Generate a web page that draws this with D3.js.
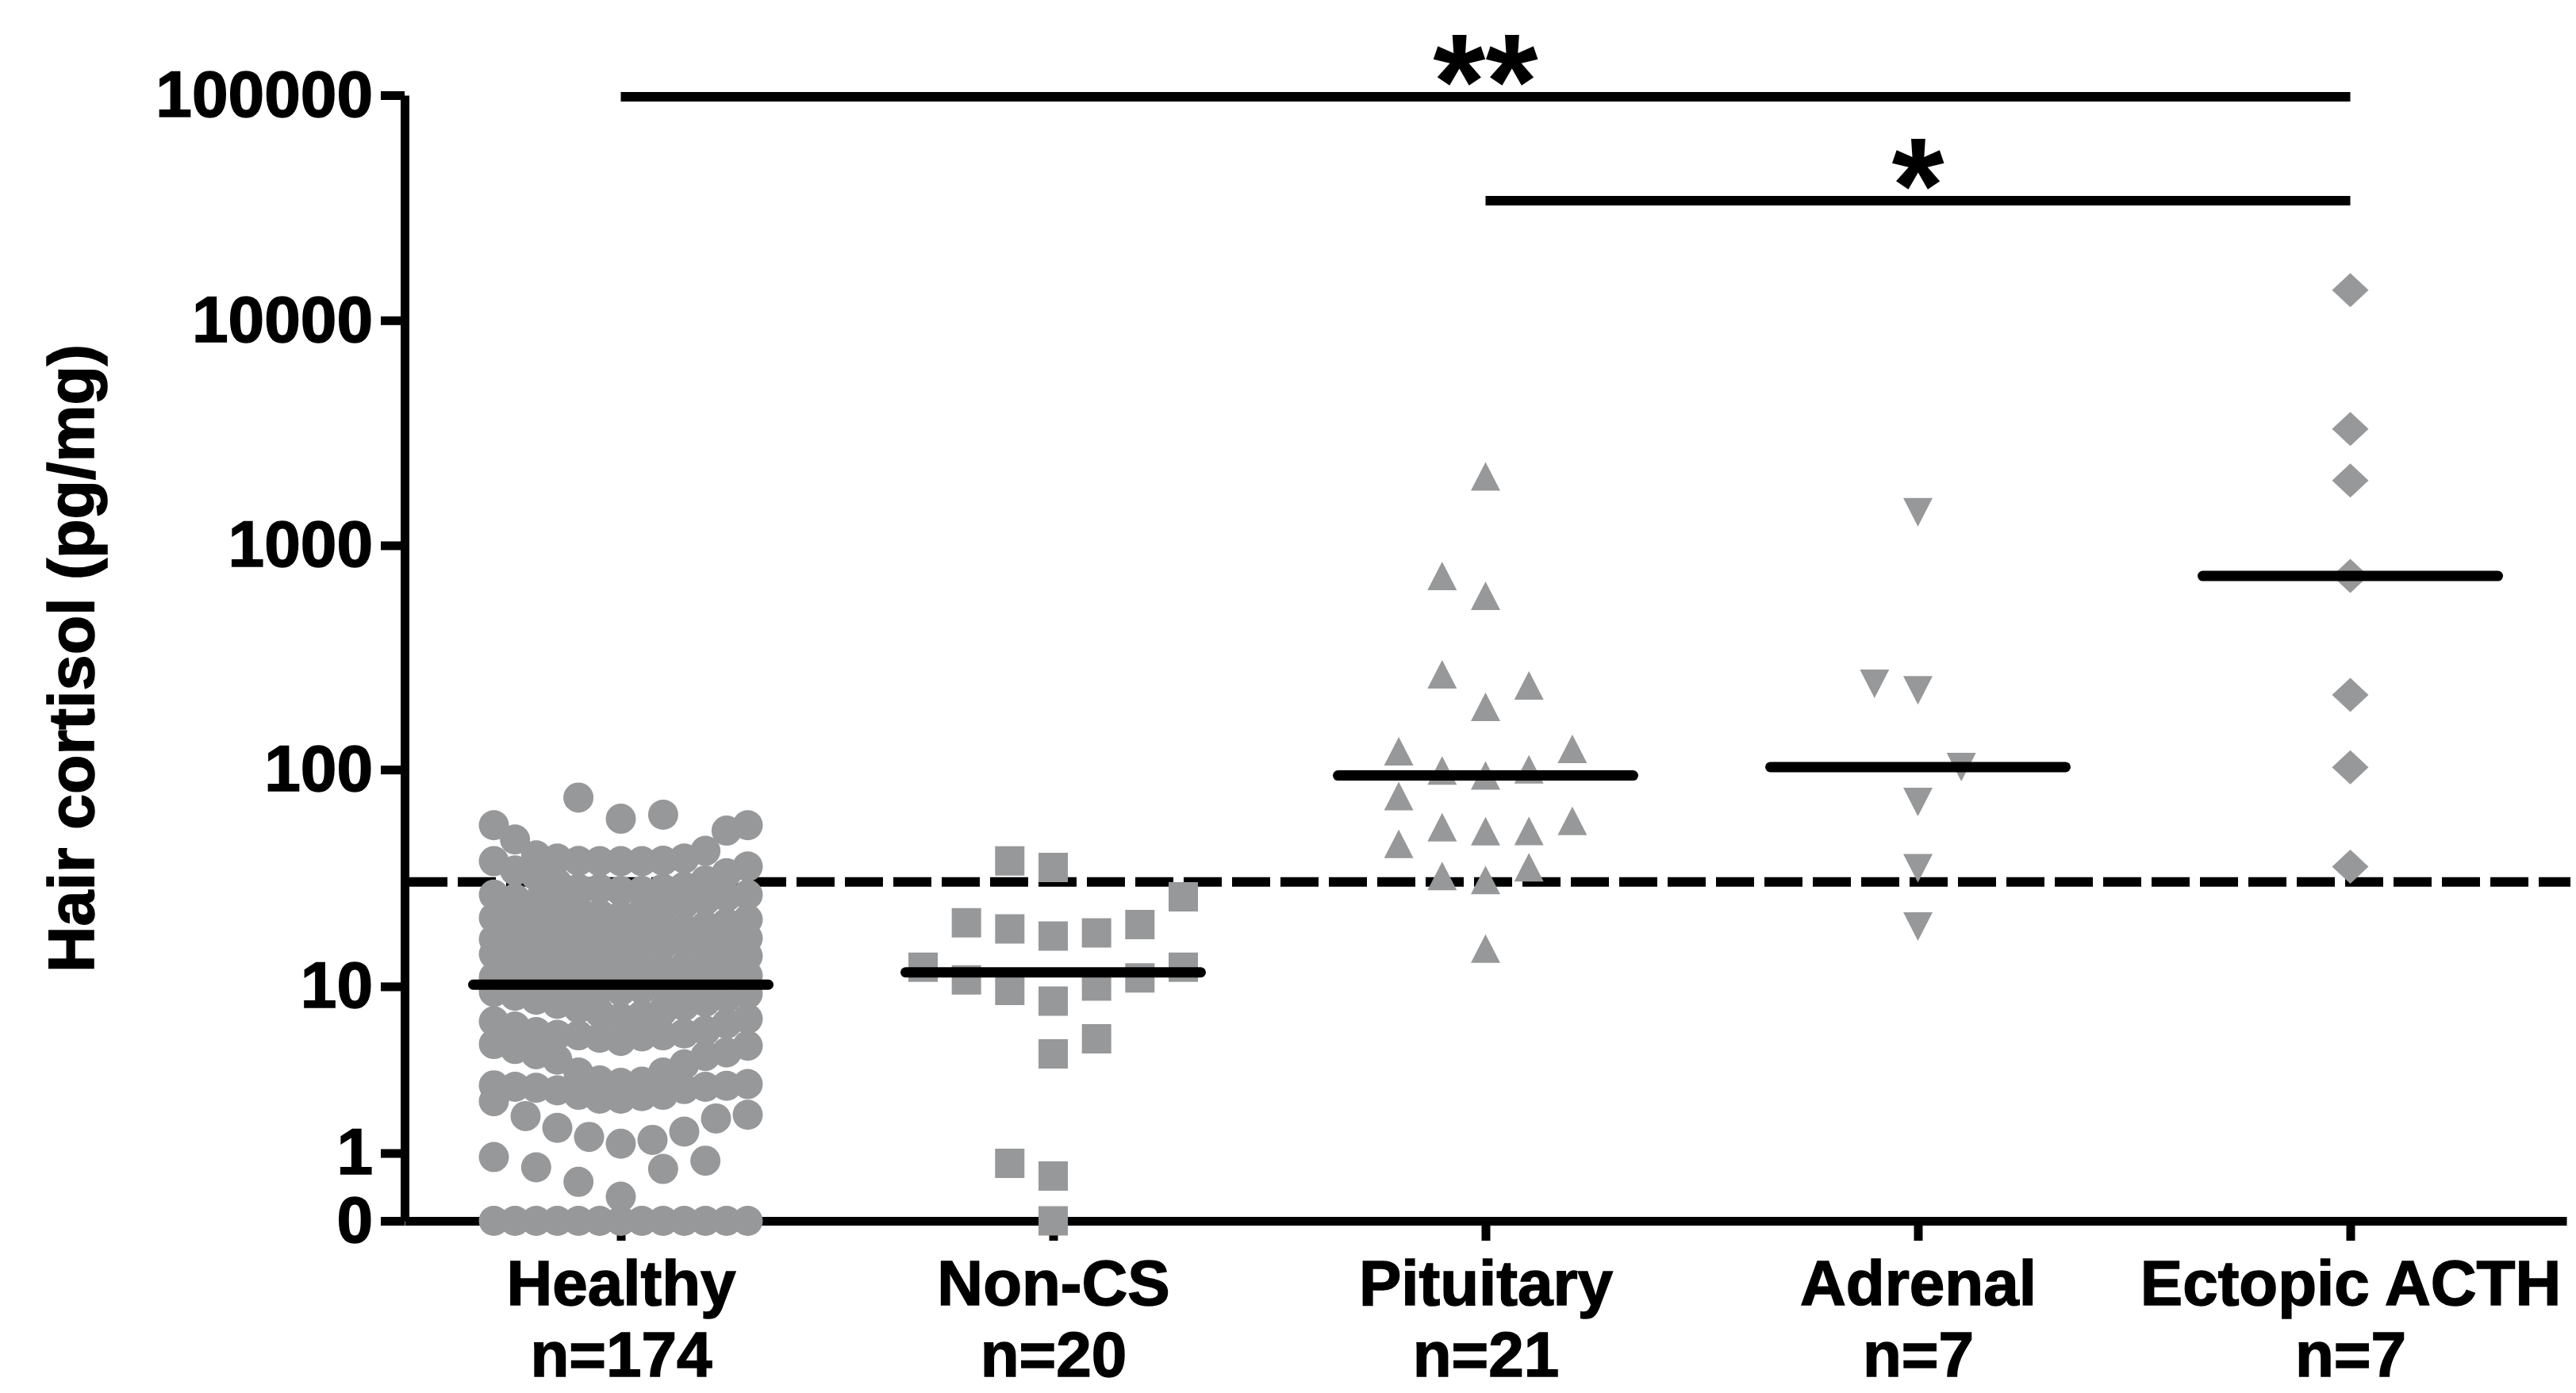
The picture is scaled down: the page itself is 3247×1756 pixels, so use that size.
<!DOCTYPE html>
<html>
<head>
<meta charset="utf-8">
<script src="https://cdn.jsdelivr.net/npm/d3@7"></script>
<style>
  body { margin: 0; background: #fff; }
  svg { display: block; }
</style>
</head>
<body>
<svg id="chart" width="3247" height="1756"></svg>
<script>
/** DATA */
const categories = ['Healthy', 'Non-CS', 'Pituitary', 'Adrenal', 'Ectopic ACTH']
const groupSizes = ['n=174', 'n=20', 'n=21', 'n=7', 'n=7']
const yTickValues = [0, 1, 10, 100, 1000, 10000, 100000]
const cutoffValue = 31

const healthy = [
  0, 0, 0, 0, 0, 0, 0, 0, 0, 0, 0, 0, 0,
  0.28, 0.49, 0.70, 0.73, 0.85, 0.92,
  1.20, 1.29, 1.36, 1.49, 1.59, 1.85, 1.92, 1.96,
  2.40, 2.49, 2.49, 2.58, 2.63, 2.63, 2.8, 2.85, 2.9, 2.94, 2.94, 2.98, 3.0, 3.05, 3.1, 3.15, 3.2, 3.56, 3.56, 3.95,
  4.2, 4.4, 4.5, 4.6, 4.8, 5.0, 5.1, 5.3, 5.5, 5.6, 5.67, 5.67, 5.7, 5.8, 5.9, 6.0,
  6.3, 6.5, 6.7, 6.9, 7.0, 7.2, 7.4, 7.6, 7.8, 8.0, 8.2, 8.4, 8.6, 8.8, 9.0, 9.2, 9.4, 9.5, 9.6, 9.7, 9.8, 9.9, 10.0, 10.1,
  10.3, 10.5, 10.7, 10.9, 11.1, 11.3, 11.5, 11.7, 11.9, 12.1, 12.3, 12.5, 12.7, 12.9,
  13.1, 13.4, 13.7, 14.0, 14.3, 14.6, 14.9, 15.2, 15.5, 15.8,
  16.0, 16.2, 16.4, 16.4, 16.5, 16.6, 16.8, 17.0,
  17.3, 17.6, 17.9, 18.2, 18.5, 18.8, 19.1, 19.4, 19.7, 20.0,
  20.4, 20.8, 21.2, 21.6, 22.0, 22.5, 23.0, 23.5, 24.0, 24.5,
  25.0, 25.5, 26.0, 26.5, 27.1, 27.1, 28.2, 28.2, 28.9, 28.9,
  28.9, 29.5, 30.6, 31.5, 33, 34, 35, 36.5, 38.6, 38.6, 38.6, 38.6, 38.7, 38.8, 39.7, 39.7,
  41.0, 43.0, 48.4, 53.1, 56.2, 56.2, 60.1, 62.7, 74.9
]
const nonCS = [0, 0.58, 0.80, 4.52, 5.44, 8.47, 9.56, 10.05, 10.76, 11.0, 12.4, 12.4,
  17.4, 18.0, 18.8, 19.7, 20.1, 26.5, 36.1, 38.7]
const pituitary = [15.2, 31.7, 33, 36.2, 46.3, 52.8, 52.9, 55.1, 58.8, 76, 94.1, 99.2, 100.3,
  121, 124, 191, 238, 267, 597, 732, 2028]
const adrenal = [19.3, 35.8, 71.5, 102.7, 226, 242, 1402]
const ectopic = [36.4, 102.5, 216, 731, 1942, 3290, 13610]

const groupValues = [healthy, nonCS, pituitary, adrenal, ectopic]
const comparisons = [
  {from: 'Healthy', to: 'Ectopic ACTH', label: '**'},
  {from: 'Pituitary', to: 'Ectopic ACTH', label: '*'}
]

/** LAYOUT + STYLE */
const plotLeft = 510
const plotRight = 3235
const plotTop = 120
const plotBottom = 1539
const fontFamily = '"Liberation Sans", Arial, Helvetica, sans-serif'
const grey = '#97989a'
const lineW = 11

const svg = d3.select('#chart')

const xScale = d3.scalePoint()
  .domain(categories)
  .range([plotLeft, plotRight])
  .padding(0.5)

// hair cortisol axis: log(1 + y), so 0 can be shown
const yScale = d3.scaleSymlog()
  .constant(1)
  .domain([0, 100000])
  .range([plotBottom, plotTop])

// custom marker shapes, centred on their box
function boxSymbol(points) {
  return {draw(ctx) {
    ctx.moveTo(points[0][0], points[0][1])
    points.slice(1).forEach(p => ctx.lineTo(p[0], p[1]))
    ctx.closePath()
  }}
}
const triUp = boxSymbol([[0, -18], [18.5, 18], [-18.5, 18]])
const triDown = boxSymbol([[0, 18], [18.5, -18], [-18.5, -18]])
const diamond = boxSymbol([[0, -21.5], [23, 0], [0, 21.5], [-23, 0]])
const square = boxSymbol([[-18.5, -18.5], [18.5, -18.5], [18.5, 18.5], [-18.5, 18.5]])

const markerTypes = [d3.symbolCircle, square, triUp, triDown, diamond]
const markerSizes = [Math.PI * 19 * 19, 1, 1, 1, 1]
// Prism-like scatter: rows of close values spread out from the centre
const swarmOpts = [
  {step: 53.4, maxHalf: 160, rowHeight: 55, maxPerRow: 13},
  {step: 54.7, maxHalf: 164, rowHeight: 55, maxPerRow: 13},
  {step: 54.7, maxHalf: 164, rowHeight: 55, maxPerRow: 13},
  {step: 54.7, maxHalf: 164, rowHeight: 55, maxPerRow: 13},
  {step: 54.7, maxHalf: 164, rowHeight: 55, maxPerRow: 13}
]

function swarm(values, cx, opt) {
  const pts = values.map(v => ({v: v, y: yScale(v)})).sort((a, b) => a.v - b.v)
  const out = []
  let dir = 1
  let i = 0
  while (i < pts.length) {
    const row = [pts[i]]
    let j = i + 1
    while (j < pts.length && pts[i].y - pts[j].y < opt.rowHeight && row.length < opt.maxPerRow) {
      row.push(pts[j])
      j++
    }
    const maxSlot = Math.ceil((row.length - 1) / 2)
    const step = maxSlot ? Math.min(opt.step, opt.maxHalf / maxSlot) : 0
    row.forEach((p, k) => {
      const slot = k === 0 ? 0 : Math.ceil(k / 2) * (k % 2 ? dir : -dir)
      out.push({v: p.v, x: cx + slot * step, y: p.y})
    })
    dir = -dir
    i = j
  }
  return out
}

// y axis
const yAxis = d3.axisLeft(yScale)
  .tickValues(yTickValues)
  .tickFormat(d3.format('d'))
  .tickSize(30)
  .tickSizeOuter(0)
  .tickPadding(10)

const yAxisG = svg.append('g')
  .attr('transform', `translate(${plotLeft},0)`)
  .call(yAxis)
yAxisG.selectAll('path, line').attr('stroke', '#000').attr('stroke-width', lineW)
yAxisG.selectAll('text')
  .attr('font-family', fontFamily)
  .attr('font-weight', 'bold')
  .attr('font-size', 82)
  .attr('fill', '#000')
  .attr('stroke', '#000')
  .attr('stroke-width', 1.5)

// x axis
const xAxis = d3.axisBottom(xScale)
  .tickSize(25)
  .tickSizeOuter(0)

const xAxisG = svg.append('g')
  .attr('transform', `translate(0,${plotBottom})`)
  .call(xAxis)
xAxisG.selectAll('path, line').attr('stroke', '#000').attr('stroke-width', lineW)
xAxisG.selectAll('text')
  .attr('font-family', fontFamily)
  .attr('font-weight', 'bold')
  .attr('font-size', 80)
  .attr('fill', '#000')
  .attr('stroke', '#000')
  .attr('stroke-width', 1.5)
  .attr('y', null)
  .attr('dy', null)
  .text(null)
  .each(function(d, i) {
    const t = d3.select(this)
    t.append('tspan').attr('x', 0).attr('y', 106).text(d)
    t.append('tspan').attr('x', 0).attr('y', 196).text(groupSizes[i])
  })

// y label
svg.append('text')
  .attr('transform', 'translate(118,830) rotate(-90)')
  .attr('text-anchor', 'middle')
  .attr('font-family', fontFamily)
  .attr('font-weight', 'bold')
  .attr('font-size', 81)
  .attr('stroke', '#000')
  .attr('stroke-width', 1.5)
  .text('Hair cortisol (pg/mg)')

// cut-off line
svg.append('line')
  .attr('x1', plotLeft + 6)
  .attr('x2', plotRight + 5)
  .attr('y1', yScale(cutoffValue))
  .attr('y2', yScale(cutoffValue))
  .attr('stroke', '#000')
  .attr('stroke-width', 12)
  .attr('stroke-dasharray', '48 13')

// points
groupValues.forEach((vals, gi) => {
  const pts = swarm(vals, xScale(categories[gi]), swarmOpts[gi])
  svg.append('g')
    .selectAll('path')
    .data(pts)
    .join('path')
    .attr('transform', d => `translate(${d.x},${d.y})`)
    .attr('d', d3.symbol().type(markerTypes[gi]).size(markerSizes[gi]))
    .attr('fill', grey)
})

// medians
svg.append('g')
  .selectAll('line')
  .data(groupValues.map((vals, gi) => ({cat: categories[gi], med: d3.median(vals)})))
  .join('line')
  .attr('x1', d => xScale(d.cat) - 186)
  .attr('x2', d => xScale(d.cat) + 186)
  .attr('y1', d => yScale(d.med))
  .attr('y2', d => yScale(d.med))
  .attr('stroke', '#000')
  .attr('stroke-width', 13)
  .attr('stroke-linecap', 'round')

// significance brackets
const bracketY = [122, 253]
comparisons.forEach((c, i) => {
  const x1 = xScale(c.from)
  const x2 = xScale(c.to)
  svg.append('line')
    .attr('x1', x1).attr('x2', x2)
    .attr('y1', bracketY[i]).attr('y2', bracketY[i])
    .attr('stroke', '#000')
    .attr('stroke-width', 12)
  svg.append('text')
    .attr('x', (x1 + x2) / 2)
    .attr('y', bracketY[i] + 40)
    .attr('text-anchor', 'middle')
    .attr('font-family', fontFamily)
    .attr('font-weight', 'bold')
    .attr('font-size', 170)
    .text(c.label)
})
</script>
</body>
</html>
